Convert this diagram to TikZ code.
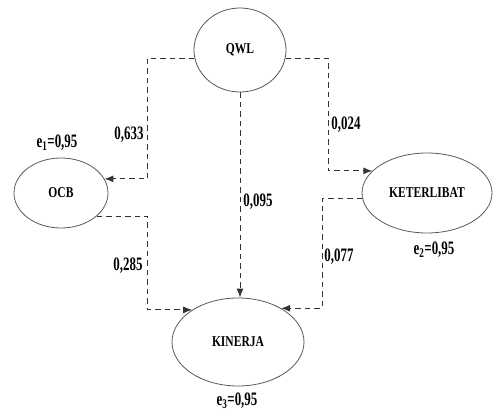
\documentclass[tikz,border=0pt]{standalone}
\usepackage{fontspec}
\setmainfont{Liberation Serif}
\newfontfamily\namefont[FakeStretch=0.77]{Liberation Serif}
\newfontfamily\numfont[FakeStretch=0.68]{Liberation Serif}
\usetikzlibrary{shapes.geometric,arrows.meta}
\begin{document}
\begin{tikzpicture}[x=1pt,y=-1pt,
  latent/.style={ellipse,draw=black!65,line width=0.8pt,inner sep=0pt,
    font=\namefont\fontsize{15}{15}\selectfont\bfseries},
  conn/.style={draw=black!80,line width=1pt,dash pattern=on 5.5pt off 4pt,
    -{Latex[length=9pt,width=7pt]}},
  coef/.style={font=\numfont\fontsize{19}{19}\selectfont\bfseries,inner sep=0pt},
  err/.style={font=\numfont\fontsize{19}{19}\selectfont\bfseries,inner sep=0pt}]
\useasboundingbox (0,0) rectangle (499,411);
\node[latent,minimum width=92pt,minimum height=84pt] (QWL) at (240,50) {QWL};
\node[latent,minimum width=94pt,minimum height=70pt] (OCB) at (61,193) {OCB};
\node[latent,minimum width=130pt,minimum height=80pt] (KET) at (427,193) {KETERLIBAT};
\node[latent,minimum width=132pt,minimum height=88pt] (KIN) at (238,342) {KINERJA};
\coordinate (jl) at (147.5,0);
\coordinate (jr1) at (328,0);
\coordinate (jr2) at (322,0);
\draw[conn] (QWL.190) -| (jl |- OCB.18) -- (OCB.18);
\draw[conn] (OCB.-33) -| (jl |- KIN.145) -- (KIN.145);
\draw[conn] (QWL.south) -- (QWL.south |- KIN.north);
\draw[conn] (QWL.350) -| (jr1 |- KET.158) -- (KET.158);
\draw[conn] (KET.185) -| (jr2 |- KIN.38) -- (KIN.38);
\node[coef] (c1) at (129,135) {0,633};
\node[coef] (c2) at (346,125) {0,024};
\node[coef] (c3) at (258,202) {0,095};
\node[coef] (c4) at (128,266) {0,285};
\node[coef] (c5) at (339,257) {0,077};
\node[err] (e1) at (57,143) {e\textsubscript{1}=0,95};
\node[err] (e2) at (434,250) {e\textsubscript{2}=0,95};
\node[err] (e3) at (237,401) {e\textsubscript{3}=0,95};
\end{tikzpicture}
\end{document}
